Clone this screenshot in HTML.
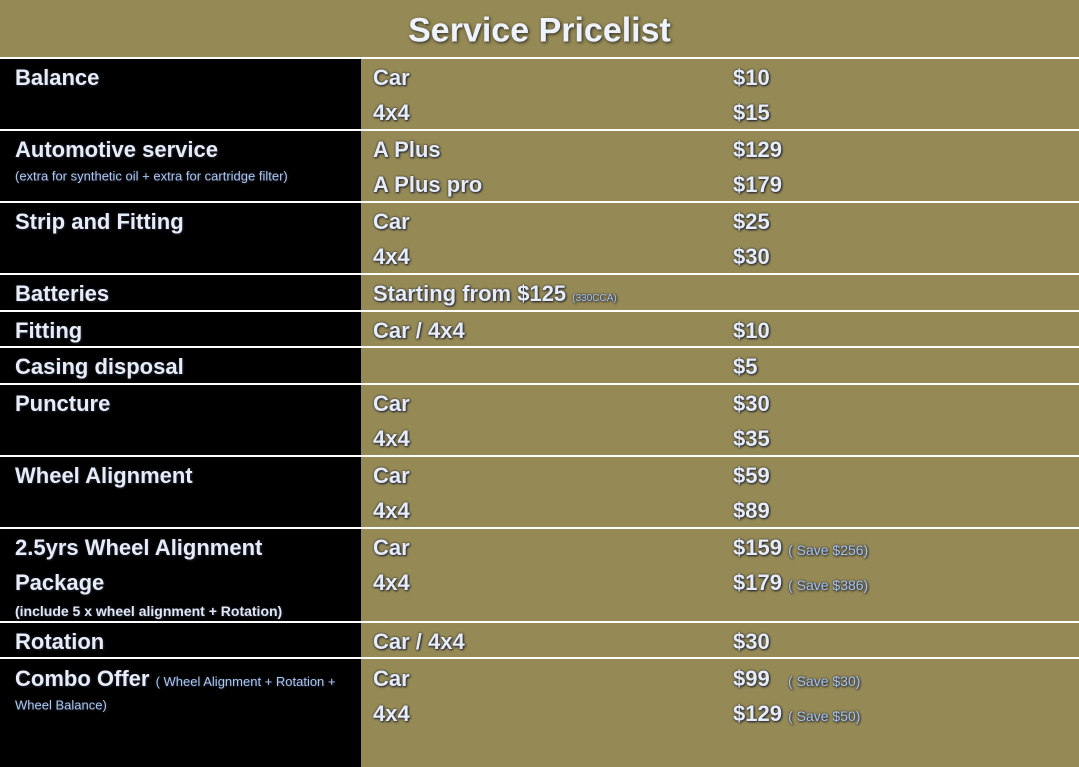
<!DOCTYPE html>
<html><head><meta charset="utf-8"><style>
body{margin:0;width:1079px;height:767px;overflow:hidden;background:#958a55;font-family:"Liberation Sans",sans-serif;position:relative}
.l{position:absolute;left:0;width:361px;background:#000}
.h{position:absolute;left:0;width:1079px;height:2px;background:#fff}
.t{position:absolute;color:#e6edf7;font-size:22px;font-weight:bold;white-space:nowrap;text-shadow:0 0 2px #223,1px 1px 2px #223;transform:translateY(-50%)}
.s{font-size:13px;font-weight:normal;color:#aac8f0}
.sm{font-size:14px;font-weight:normal;color:#a8c6ee}
</style></head><body>
<div class="l" style="top:58px;height:709px"></div>
<div class="t" style="left:0;width:1079px;text-align:center;top:31px;font-size:34px;color:#eef2fa;text-shadow:1px 1px 3px #222">Service Pricelist</div>
<div class="h" style="top:57px"></div>
<div class="h" style="top:129px"></div>
<div class="h" style="top:201px"></div>
<div class="h" style="top:273px"></div>
<div class="h" style="top:310px"></div>
<div class="h" style="top:346px"></div>
<div class="h" style="top:383px"></div>
<div class="h" style="top:455px"></div>
<div class="h" style="top:527px"></div>
<div class="h" style="top:621px"></div>
<div class="h" style="top:657px"></div>

<div class="t" style="left:15px;top:78px">Balance</div>
<div class="t" style="left:373px;top:78px">Car</div><div class="t" style="left:733px;top:78px">$10</div>
<div class="t" style="left:373px;top:113px">4x4</div><div class="t" style="left:733px;top:113px">$15</div>

<div class="t" style="left:15px;top:150px">Automotive service</div>
<div class="t s" style="left:15px;top:176px">(extra for synthetic oil + extra for cartridge filter)</div>
<div class="t" style="left:373px;top:150px">A Plus</div><div class="t" style="left:733px;top:150px">$129</div>
<div class="t" style="left:373px;top:185px">A Plus pro</div><div class="t" style="left:733px;top:185px">$179</div>

<div class="t" style="left:15px;top:222px">Strip and Fitting</div>
<div class="t" style="left:373px;top:222px">Car</div><div class="t" style="left:733px;top:222px">$25</div>
<div class="t" style="left:373px;top:257px">4x4</div><div class="t" style="left:733px;top:257px">$30</div>

<div class="t" style="left:15px;top:294px">Batteries</div>
<div class="t" style="left:373px;top:294px">Starting from $125 <span class="sm" style="font-size:10px">(330CCA)</span></div>

<div class="t" style="left:15px;top:331px">Fitting</div>
<div class="t" style="left:373px;top:331px">Car / 4x4</div><div class="t" style="left:733px;top:331px">$10</div>

<div class="t" style="left:15px;top:367px">Casing disposal</div>
<div class="t" style="left:733px;top:367px">$5</div>

<div class="t" style="left:15px;top:404px">Puncture</div>
<div class="t" style="left:373px;top:404px">Car</div><div class="t" style="left:733px;top:404px">$30</div>
<div class="t" style="left:373px;top:439px">4x4</div><div class="t" style="left:733px;top:439px">$35</div>

<div class="t" style="left:15px;top:476px">Wheel Alignment</div>
<div class="t" style="left:373px;top:476px">Car</div><div class="t" style="left:733px;top:476px">$59</div>
<div class="t" style="left:373px;top:511px">4x4</div><div class="t" style="left:733px;top:511px">$89</div>

<div class="t" style="left:15px;top:548px">2.5yrs Wheel Alignment</div>
<div class="t" style="left:15px;top:583px">Package</div>
<div class="t" style="left:15px;top:611px;font-size:14px;color:#dfe8f5">(include 5 x wheel alignment + Rotation)</div>
<div class="t" style="left:373px;top:548px">Car</div><div class="t" style="left:733px;top:548px">$159 <span class="sm">( Save $256)</span></div>
<div class="t" style="left:373px;top:583px">4x4</div><div class="t" style="left:733px;top:583px">$179 <span class="sm">( Save $386)</span></div>

<div class="t" style="left:15px;top:642px">Rotation</div>
<div class="t" style="left:373px;top:642px">Car / 4x4</div><div class="t" style="left:733px;top:642px">$30</div>

<div class="t" style="left:15px;top:679px">Combo Offer <span class="s">( Wheel Alignment + Rotation +</span></div>
<div class="t s" style="left:15px;top:705px">Wheel Balance)</div>
<div class="t" style="left:373px;top:679px">Car</div><div class="t" style="left:733px;top:679px">$99 &nbsp;&nbsp;<span class="sm">( Save $30)</span></div>
<div class="t" style="left:373px;top:714px">4x4</div><div class="t" style="left:733px;top:714px">$129 <span class="sm">( Save $50)</span></div>
</body></html>
